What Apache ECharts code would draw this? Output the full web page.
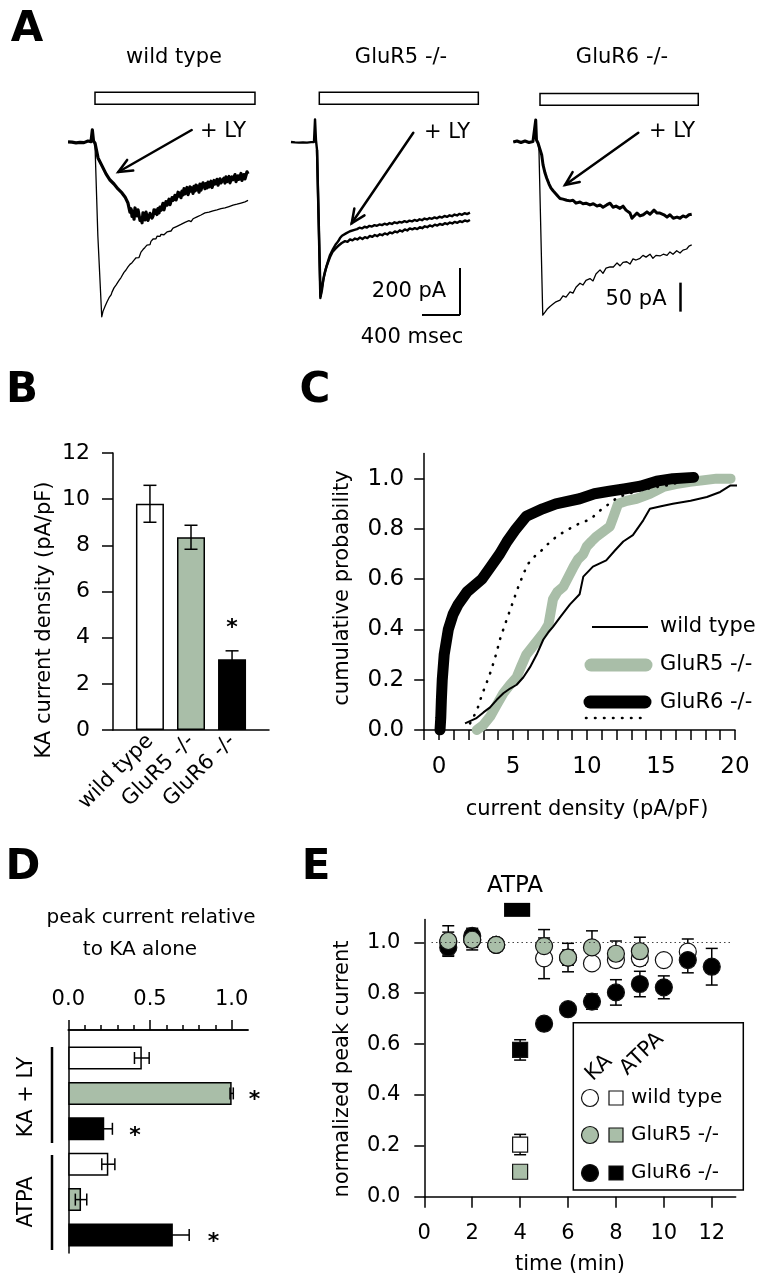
<!DOCTYPE html>
<html><head><meta charset="utf-8">
<script src="https://cdn.jsdelivr.net/npm/echarts@6/dist/echarts.min.js"></script>
<style>html,body{margin:0;padding:0;background:#fff}#c{width:767px;height:1280px}</style>
</head><body><div id="c"></div><script>
const FONT = 'DejaVu Sans';
const GREEN = '#a9bea8';

// ---------- Panel A : traces (time ms, current pA) ----------
const aTitles = ['wild type', 'GluR5 -/-', 'GluR6 -/-'];
const stimWT = [0, 1684], stimR5 = [0, 1674], stimR6 = [0, 1666];
const wtControl = [[-284,-1],[-263,3],[-242,-2],[-221,4],[-200,-5],[-179,2],[-158,-3],[-137,4],[-116,-4],[-95,2],[-74,3],[-53,-2],[-42,0],[-28,50],[-16,3],[0,-14],[30,-400],[71,-745],[84,-722],[95,-716],[106,-700],[116,-695],[127,-681],[137,-686],[148,-664],[158,-661],[169,-652],[179,-640],[189,-644],[200,-622],[211,-618],[221,-610],[232,-603],[242,-608],[253,-590],[263,-586],[274,-578],[284,-572],[295,-575],[305,-556],[316,-559],[326,-546],[337,-548],[347,-533],[358,-538],[368,-522],[379,-529],[390,-515],[400,-520],[411,-504],[421,-510],[432,-494],[442,-499],[453,-487],[463,-493],[474,-481],[484,-470],[495,-474],[505,-459],[516,-463],[526,-450],[537,-455],[547,-440],[558,-446],[568,-432],[579,-438],[589,-424],[600,-428],[611,-414],[621,-420],[632,-408],[642,-413],[653,-402],[663,-408],[674,-398],[684,-403],[695,-394],[705,-399],[716,-390],[726,-396],[737,-388],[758,-384],[779,-376],[800,-380],[821,-368],[842,-372],[863,-360],[884,-364],[905,-352],[926,-356],[947,-343],[968,-348],[989,-336],[1011,-340],[1032,-328],[1053,-332],[1074,-320],[1095,-324],[1116,-312],[1137,-317],[1158,-303],[1179,-309],[1200,-300],[1221,-306],[1242,-294],[1263,-299],[1284,-290],[1305,-295],[1326,-285],[1347,-292],[1368,-282],[1389,-287],[1411,-276],[1432,-281],[1453,-270],[1474,-276],[1495,-266],[1516,-271],[1537,-261],[1558,-266],[1579,-256],[1600,-260],[1611,-250]];
const wtLY = [[-284,-1],[-263,3],[-242,-2],[-221,4],[-200,-5],[-179,2],[-158,-3],[-137,4],[-116,-4],[-95,2],[-74,3],[-53,-2],[-42,0],[-28,50],[-16,3],[0,-6],[32,-69],[74,-103],[116,-137],[158,-163],[200,-180],[242,-201],[284,-218],[316,-235],[347,-261],[368,-300],[379,-285],[390,-318],[400,-296],[411,-330],[421,-282],[432,-300],[442,-316],[453,-290],[463,-295],[474,-335],[484,-325],[495,-345],[505,-303],[516,-320],[526,-333],[537,-300],[547,-308],[558,-335],[568,-329],[579,-305],[589,-299],[600,-325],[611,-316],[621,-290],[632,-305],[642,-291],[653,-310],[663,-285],[674,-303],[684,-278],[695,-292],[705,-278],[716,-262],[726,-290],[737,-286],[747,-255],[758,-270],[768,-257],[779,-245],[790,-268],[800,-265],[811,-238],[821,-250],[832,-240],[842,-228],[853,-248],[863,-235],[874,-215],[884,-232],[895,-218],[905,-238],[916,-210],[926,-227],[937,-200],[947,-222],[958,-206],[968,-195],[979,-225],[989,-214],[1000,-192],[1011,-210],[1021,-197],[1032,-220],[1042,-190],[1053,-210],[1063,-185],[1074,-205],[1084,-189],[1095,-215],[1105,-180],[1116,-206],[1126,-190],[1137,-175],[1147,-184],[1158,-200],[1168,-178],[1179,-197],[1190,-172],[1200,-192],[1211,-180],[1221,-168],[1232,-195],[1242,-189],[1253,-165],[1263,-180],[1274,-172],[1284,-160],[1295,-185],[1305,-180],[1316,-158],[1326,-175],[1337,-167],[1347,-182],[1358,-155],[1368,-176],[1379,-150],[1389,-170],[1400,-163],[1411,-148],[1421,-175],[1432,-172],[1442,-150],[1453,-162],[1463,-155],[1474,-140],[1484,-170],[1495,-167],[1505,-145],[1516,-160],[1526,-150],[1537,-135],[1547,-165],[1558,-163],[1568,-140],[1579,-158],[1589,-150],[1600,-128],[1611,-137]];
const r5Control = [[-298,-1],[-277,4],[-256,-3],[-235,4],[-214,-4],[-193,3],[-172,-3],[-151,4],[-129,-4],[-108,3],[-87,-2],[-66,3],[-56,-1],[-45,95],[-35,7],[-24,-35],[11,-665],[28,-631],[42,-589],[60,-554],[78,-529],[97,-508],[113,-491],[139,-469],[165,-457],[197,-444],[236,-431],[271,-423],[297,-426],[323,-416],[349,-420],[375,-412],[401,-416],[428,-408],[454,-414],[480,-406],[506,-410],[532,-401],[558,-405],[584,-397],[611,-402],[637,-394],[663,-398],[689,-390],[716,-395],[742,-386],[768,-390],[795,-382],[821,-386],[847,-377],[873,-382],[900,-373],[926,-378],[952,-369],[979,-373],[1005,-368],[1031,-372],[1058,-364],[1084,-368],[1110,-360],[1137,-364],[1163,-356],[1189,-361],[1216,-353],[1242,-357],[1268,-350],[1295,-354],[1321,-347],[1347,-351],[1374,-344],[1400,-348],[1426,-341],[1453,-345],[1479,-338],[1505,-342],[1532,-335],[1558,-339],[1586,-333]];
const r5LY = [[-24,-35],[13,-657],[28,-618],[49,-572],[71,-537],[92,-508],[113,-482],[144,-457],[176,-435],[197,-425],[218,-410],[239,-400],[260,-393],[281,-390],[302,-384],[323,-381],[344,-377],[370,-375],[397,-372],[423,-366],[449,-369],[476,-362],[502,-365],[528,-358],[554,-361],[581,-355],[607,-358],[633,-352],[660,-355],[686,-349],[712,-353],[739,-346],[765,-350],[791,-343],[818,-347],[844,-341],[870,-344],[897,-338],[923,-342],[949,-336],[976,-339],[1002,-333],[1028,-337],[1055,-330],[1081,-334],[1107,-327],[1134,-331],[1160,-325],[1186,-328],[1213,-322],[1239,-326],[1265,-319],[1292,-323],[1318,-316],[1344,-320],[1371,-313],[1397,-317],[1423,-310],[1450,-314],[1476,-307],[1502,-311],[1529,-304],[1555,-308],[1586,-302]];
const r6Control = [[-281,-0.5],[-261,1.5],[-242,1.2],[-221,-1.5],[-200,-1.4],[-179,1.8],[-158,1.2],[-137,-1.6],[-116,-1.4],[-95,1.5],[-74,0.3],[-53,-0.5],[-45,37.4],[-37,2.9],[-21,-2.2],[-11,-14],[29,-299],[53,-294],[74,-289],[105,-284],[137,-280],[168,-276],[211,-273],[242,-266],[274,-268],[316,-259],[347,-261],[379,-251],[421,-244],[453,-247],[484,-239],[526,-236],[558,-240],[589,-228],[632,-221],[663,-227],[695,-218],[737,-216],[772,-216],[811,-209],[842,-214],[874,-208],[913,-207],[947,-211],[979,-202],[1011,-204],[1053,-201],[1084,-196],[1116,-199],[1158,-194],[1189,-201],[1221,-196],[1263,-197],[1298,-194],[1337,-196],[1368,-190],[1400,-194],[1439,-188],[1474,-192],[1505,-187],[1544,-185],[1568,-180],[1597,-178]];
const r6LY = [[-281,-0.5],[-261,1.5],[-242,1.2],[-221,-1.5],[-200,-1.4],[-179,1.8],[-158,1.2],[-137,-1.6],[-116,-1.4],[-95,1.5],[-74,0.3],[-53,-0.5],[-45,37.4],[-37,2.9],[-21,-2.2],[-11,-2.2],[18,-23],[32,-40],[53,-54],[71,-63],[95,-73],[116,-80],[140,-85],[168,-90],[189,-94],[211,-98],[242,-99],[281,-101],[316,-102],[347,-101],[379,-106],[421,-104],[453,-107],[484,-106],[526,-109],[561,-107],[600,-111],[632,-109],[663,-113],[702,-109],[737,-106],[768,-113],[800,-111],[842,-115],[874,-111],[905,-118],[947,-123],[968,-132],[989,-133],[1021,-123],[1053,-128],[1087,-126],[1126,-121],[1158,-125],[1200,-118],[1232,-123],[1263,-123],[1305,-126],[1337,-130],[1368,-126],[1403,-132],[1442,-130],[1474,-132],[1505,-128],[1537,-130],[1568,-126],[1597,-125]];
const scaleR5 = {t0: 1081, t1: 1481, pA0: -737, pA1: -537};   // 400 ms, 200 pA
const scaleR6 = {t: 1474, pA0: -293, pA1: -243};               // 50 pA

// ---------- Panel B ----------
const bCats = ['wild type', 'GluR5 -/-', 'GluR6 -/-'];
const bValues = [9.8, 8.35, 3.06];
const bErr = [0.8, 0.52, 0.37];

// ---------- Panel C (cumulative distributions) ----------
const cWT = [[1.76,0.026],[2.5,0.046],[3.0,0.07],[3.45,0.09],[3.9,0.12],[4.35,0.146],[4.8,0.165],[5.25,0.18],[5.7,0.21],[6.15,0.25],[6.6,0.30],[7.05,0.36],[7.4,0.39],[7.7,0.41],[8.2,0.45],[8.85,0.50],[9.5,0.54],[9.75,0.61],[10.4,0.65],[11.3,0.675],[11.9,0.715],[12.45,0.75],[13.1,0.775],[13.8,0.834],[14.25,0.88],[15.0,0.89],[15.8,0.9],[17.0,0.912],[18.1,0.927],[19.0,0.947],[19.7,0.973],[20.2,0.973]];
const cR5 = [[2.55,0],[3.0,0.02],[3.45,0.053],[3.9,0.10],[4.35,0.146],[4.8,0.18],[5.25,0.21],[5.6,0.26],[5.9,0.30],[6.3,0.33],[6.7,0.36],[7.1,0.39],[7.4,0.42],[7.55,0.47],[7.7,0.52],[8.0,0.55],[8.4,0.57],[8.75,0.61],[9.1,0.65],[9.4,0.68],[9.75,0.70],[9.98,0.73],[10.3,0.75],[10.65,0.77],[11.1,0.79],[11.55,0.81],[11.8,0.85],[12.1,0.90],[12.7,0.912],[13.35,0.92],[14.25,0.94],[15.15,0.967],[16.0,0.978],[16.95,0.987],[17.8,0.993],[18.75,1.0],[19.7,1.0]];
const cR6 = [[0.07,0],[0.12,0.05],[0.16,0.12],[0.22,0.2],[0.35,0.3],[0.63,0.4],[0.95,0.46],[1.3,0.5],[1.9,0.55],[2.9,0.6],[3.5,0.65],[4.1,0.7],[4.6,0.75],[5.2,0.8],[5.9,0.85],[7.0,0.88],[7.9,0.9],[9.5,0.92],[10.5,0.94],[11.5,0.95],[12.6,0.96],[13.6,0.97],[14.7,0.99],[15.8,1.0],[17.2,1.005]];
const cDot = [[2.1,0.026],[2.4,0.06],[2.65,0.093],[2.9,0.14],[3.2,0.185],[3.45,0.225],[3.67,0.265],[3.9,0.31],[4.1,0.357],[4.4,0.41],[4.7,0.46],[5.0,0.51],[5.36,0.57],[5.7,0.62],[6.0,0.66],[6.45,0.69],[6.94,0.715],[7.45,0.745],[7.95,0.77],[8.5,0.79],[9.1,0.81],[9.6,0.825],[10.2,0.837],[10.9,0.874],[11.5,0.9],[12.1,0.927],[12.8,0.94],[13.6,0.954],[14.5,0.965],[15.4,0.973],[16.2,0.985],[17.0,0.993]];
const cXLabels = [0, 5, 10, 15, 20];
const cYTicks = [0, 0.2, 0.4, 0.6, 0.8, 1.0];
const cLegend = ['wild type', 'GluR5 -/-', 'GluR6 -/-'];

// ---------- Panel D ----------
const dGroups = ['KA + LY', 'ATPA'];
const dCats = ['KA+LY wild type', 'KA+LY GluR5', 'KA+LY GluR6', 'ATPA wild type', 'ATPA GluR5', 'ATPA GluR6'];
const dValues = [0.45, 1.0, 0.22, 0.245, 0.078, 0.64];
const dErr = [0.045, 0.01, 0.05, 0.04, 0.035, 0.10];
const dStar = [false, true, true, false, false, true];
const dMajor = [0, 0.5, 1.0];
const dMinor = [0, 0.1, 0.2, 0.3, 0.4, 0.5, 0.6, 0.7, 0.8, 0.9, 1.0];

// ---------- Panel E ----------
const eWTt = [1, 2, 3, 5, 6, 7, 8, 9, 10, 11];
const eWTv = [1.0, 1.01, 0.99, 0.937, 0.94, 0.917, 0.93, 0.937, 0.93, 0.963];
const eWTe = [0.04, 0.03, 0.02, 0.08, 0.03, 0.015, 0.025, 0.026, 0.01, 0.05];
const eR5t = [1, 2, 3, 5, 6, 7, 8, 9];
const eR5v = [1.005, 1.01, 0.99, 0.985, 0.94, 0.98, 0.955, 0.965];
const eR5e = [0.06, 0.04, 0.01, 0.065, 0.056, 0.065, 0.05, 0.055];
const eR6t = [1, 2, 3, 5, 6, 7, 8, 9, 10, 11, 12];
const eR6v = [0.98, 1.025, 0.99, 0.68, 0.737, 0.767, 0.803, 0.836, 0.823, 0.93, 0.904];
const eR6e = [0.03, 0.03, 0.01, 0.015, 0.015, 0.03, 0.05, 0.05, 0.045, 0.05, 0.072];
const eSqT = 4;
const eSqV = [0.205, 0.098, 0.577];   // wild type, GluR5, GluR6
const eSqE = [0.04, 0.01, 0.04];
const eATPA = [3.33, 4.42];
const eXTicks = [0, 2, 4, 6, 8, 10, 12];
const eYTicks = [0, 0.2, 0.4, 0.6, 0.8, 1.0];

// ---------- helpers ----------
const BLK = '#000';
const axLine = {show: true, onZero: false, lineStyle: {color: BLK, width: 1.5}};
const tickSt = {color: BLK, width: 1.5};
const lblSt = (size, extra) => Object.assign({color: BLK, fontFamily: FONT, fontSize: size}, extra || {});
const hiddenAx = (g, min, max) => ({gridIndex: g, type: 'value', min, max, show: false});
const zip = (t, v, e) => t.map((x, i) => [x, v[i], e[i]]);

function vErr(xi, yi, data, cap, z) {
  return {type: 'custom', xAxisIndex: xi, yAxisIndex: yi, z: z || 2, silent: true, clip: false,
    data: data,
    renderItem: (p, api) => {
      const x = api.value(0), y = api.value(1), e = api.value(2);
      const lo = api.coord([x, y - e]), hi = api.coord([x, y + e]);
      const st = {stroke: BLK, lineWidth: 1.5};
      return {type: 'group', children: [
        {type: 'line', shape: {x1: lo[0], y1: lo[1], x2: hi[0], y2: hi[1]}, style: st},
        {type: 'line', shape: {x1: lo[0] - cap, y1: lo[1], x2: lo[0] + cap, y2: lo[1]}, style: st},
        {type: 'line', shape: {x1: hi[0] - cap, y1: hi[1], x2: hi[0] + cap, y2: hi[1]}, style: st}
      ]};
    }};
}
function hErr(xi, yi, data, cap) {
  return {type: 'custom', xAxisIndex: xi, yAxisIndex: yi, z: 3, silent: true, clip: false,
    data: data,
    renderItem: (p, api) => {
      const v = api.value(0), r = api.value(1), e = api.value(2);
      const lo = api.coord([v - e, r]), hi = api.coord([v + e, r]);
      const st = {stroke: BLK, lineWidth: 1.5};
      return {type: 'group', children: [
        {type: 'line', shape: {x1: lo[0], y1: lo[1], x2: hi[0], y2: hi[1]}, style: st},
        {type: 'line', shape: {x1: lo[0], y1: lo[1] - cap, x2: lo[0], y2: lo[1] + cap}, style: st},
        {type: 'line', shape: {x1: hi[0], y1: hi[1] - cap, x2: hi[0], y2: hi[1] + cap}, style: st}
      ]};
    }};
}
function trace(gi, data, w, extra) {
  return Object.assign({type: 'line', xAxisIndex: gi, yAxisIndex: gi, data: data, symbol: 'none',
    showSymbol: false, silent: true, lineStyle: {color: BLK, width: w, join: 'round'}, z: 3}, extra || {});
}
function stimArea(stim, lo, hi) {
  return {silent: true, itemStyle: {color: '#fff', borderColor: BLK, borderWidth: 1.5},
    data: [[{coord: [stim[0], lo]}, {coord: [stim[1], hi]}]]};
}
function txt(x, y, s, size, o) {
  o = o || {};
  return {type: 'text', x: x, y: y, rotation: o.rot || 0, z: 100,
    style: {text: s, fontFamily: FONT, fontSize: size, fontWeight: o.bold ? 'bold' : 'normal',
      fill: BLK, align: o.align || 'center', verticalAlign: 'middle'}};
}
function arrow(x0, y0, x1, y1) {
  const a = Math.atan2(y0 - y1, x0 - x1), L = 15, h = 0.42;
  const st = {stroke: BLK, lineWidth: 2.5, fill: null, lineCap: 'round', lineJoin: 'miter'};
  return [
    {type: 'line', z: 100, shape: {x1: x0, y1: y0, x2: x1, y2: y1}, style: st},
    {type: 'polyline', z: 100, shape: {points: [[x1 + L * Math.cos(a + h), y1 + L * Math.sin(a + h)], [x1, y1], [x1 + L * Math.cos(a - h), y1 + L * Math.sin(a - h)]]}, style: st}
  ];
}
function gLine(x1, y1, x2, y2, w, extra) {
  return {type: 'line', z: 100, shape: {x1, y1, x2, y2}, style: Object.assign({stroke: BLK, lineWidth: w}, extra || {})};
}

// axis indices
const XB = 3, XC = 4, XDMIN = 5, XDMAJ = 6, XE = 7, XD = 8;
const YB = 3, YC = 4, YDLINE = 5, YE = 6, YDMAJ = 7, YD = 8;

// ---------- series ----------
const series = [];
// Panel A
series.push(trace(0, wtControl, 1.3, {markArea: stimArea(stimWT, 159, 210)}));
series.push(trace(0, wtLY, 3.2));
series.push(trace(1, r5Control, 2.4, {markArea: stimArea(stimR5, 159, 210),
  markLine: {silent: true, symbol: ['none', 'none'], label: {show: false}, lineStyle: {color: BLK, width: 2, type: 'solid'},
    data: [[{coord: [scaleR5.t0, scaleR5.pA0]}, {coord: [scaleR5.t1, scaleR5.pA0]}],
           [{coord: [scaleR5.t1, scaleR5.pA0]}, {coord: [scaleR5.t1, scaleR5.pA1]}]]}}));
series.push(trace(1, r5LY, 2.4));
series.push(trace(2, r6Control, 1.3, {markArea: stimArea(stimR6, 63, 83),
  markLine: {silent: true, symbol: ['none', 'none'], label: {show: false}, lineStyle: {color: BLK, width: 2.5, type: 'solid'},
    data: [[{coord: [scaleR6.t, scaleR6.pA0]}, {coord: [scaleR6.t, scaleR6.pA1]}]]}}));
series.push(trace(2, r6LY, 3));

// Panel B
const bColors = ['#fff', GREEN, BLK];
series.push({type: 'bar', xAxisIndex: XB, yAxisIndex: YB, barWidth: 28, silent: true, z: 2,
  data: bValues.map((v, i) => ({value: [i + 1, v],
    itemStyle: {color: bColors[i], borderColor: BLK, borderWidth: 1.5},
    label: i === 2 ? {show: true, position: 'top', distance: 20, formatter: '*', fontSize: 22, fontWeight: 'bold', color: BLK, fontFamily: FONT} : {show: false}}))});
series.push(vErr(XB, YB, bValues.map((v, i) => [i + 1, v, bErr[i]]), 6.5, 3));

// Panel C
series.push({type: 'line', xAxisIndex: XC, yAxisIndex: YC, data: cR5, symbol: 'none', silent: true, z: 2,
  lineStyle: {color: GREEN, width: 10, cap: 'round', join: 'round'}});
series.push({type: 'line', xAxisIndex: XC, yAxisIndex: YC, data: cWT, symbol: 'none', silent: true, z: 3, clip: false,
  lineStyle: {color: BLK, width: 2}});
series.push({type: 'line', xAxisIndex: XC, yAxisIndex: YC, data: cR6, symbol: 'none', silent: true, z: 3,
  lineStyle: {color: BLK, width: 11, cap: 'round', join: 'round'}});
series.push({type: 'line', xAxisIndex: XC, yAxisIndex: YC, data: cDot, symbol: 'none', silent: true, z: 4,
  lineStyle: {color: BLK, width: 2.6, type: [0.5, 8.5], cap: 'round'}});

// Panel D (horizontal bars on a category y axis)
const dColors = ['#fff', GREEN, BLK, '#fff', GREEN, BLK];
const dDist = [0, 17, 25, 0, 0, 35];
series.push({type: 'bar', xAxisIndex: XD, yAxisIndex: YD, barWidth: 23, silent: true, z: 2,
  data: dValues.map((v, i) => ({value: v, itemStyle: {color: dColors[i], borderColor: BLK, borderWidth: 1.5},
    label: dStar[i] ? {show: true, position: 'right', distance: dDist[i], offset: [0, 7], formatter: '*', fontSize: 22, fontWeight: 'bold', color: BLK, fontFamily: FONT} : {show: false}}))});
series.push(hErr(XD, YD, dValues.map((v, i) => [v, i, dErr[i]]), 6));

// Panel E
series.push(Object.assign(vErr(XE, YE, zip(eWTt, eWTv, eWTe), 6, 2), {
  markLine: {silent: true, symbol: ['none', 'none'], label: {show: false},
    lineStyle: {color: '#444', width: 1, type: [1.5, 3]},
    data: [[{coord: [0.3, 1]}, {coord: [12.85, 1]}]]}}));
series.push(vErr(XE, YE, zip(eR6t, eR6v, eR6e), 6, 2));
series.push(vErr(XE, YE, zip(eR5t, eR5v, eR5e), 6, 2));
series.push(vErr(XE, YE, eSqV.map((v, i) => [eSqT, v, eSqE[i]]), 6, 2));
const circ = (t, v, fill) => ({type: 'scatter', xAxisIndex: XE, yAxisIndex: YE, symbol: 'circle', symbolSize: 17, silent: true, z: 3,
  data: t.map((x, i) => [x, v[i]]), itemStyle: {color: fill, borderColor: '#111', borderWidth: 1.2, opacity: 1}});
series.push(circ(eWTt, eWTv, '#fff'));
series.push(circ(eR6t, eR6v, BLK));
series.push(circ(eR5t, eR5v, GREEN));
series.push({type: 'scatter', xAxisIndex: XE, yAxisIndex: YE, symbol: 'rect', symbolSize: 15, silent: true, z: 3,
  itemStyle: {opacity: 1},
  data: eSqV.map((v, i) => ({value: [eSqT, v], itemStyle: {color: ['#fff', GREEN, BLK][i], borderColor: '#111', borderWidth: 1.2, opacity: 1}}))});
series.push({type: 'custom', xAxisIndex: XE, yAxisIndex: YE, clip: false, silent: true, z: 3,
  data: [eATPA],
  renderItem: (p, api) => {
    const a = api.coord([api.value(0), 1.155]), b = api.coord([api.value(1), 1.10]);
    return {type: 'rect', shape: {x: a[0], y: a[1], width: b[0] - a[0], height: b[1] - a[1]}, style: {fill: BLK}};
  }});

// ---------- graphic annotations ----------
const G = [];
G.push(txt(27, 30, 'A', 42, {bold: true}));
G.push(txt(22, 391, 'B', 42, {bold: true}));
G.push(txt(315, 391, 'C', 42, {bold: true}));
G.push(txt(23, 868, 'D', 42, {bold: true}));
G.push(txt(316, 868, 'E', 42, {bold: true}));
G.push(txt(174, 58, aTitles[0], 21));
G.push(txt(401, 58, aTitles[1], 21));
G.push(txt(622, 58, aTitles[2], 21));
G.push(txt(223, 132, '+ LY', 21));
G.push(txt(447, 133, '+ LY', 21));
G.push(txt(672, 132, '+ LY', 21));
G.push(...arrow(191.7, 130, 118.3, 172));
G.push(...arrow(413.3, 132.7, 351.7, 223.3));
G.push(...arrow(638.3, 132.7, 565, 185));
G.push(txt(409, 292, '200 pA', 21));
G.push(txt(412, 338, '400 msec', 21));
G.push(txt(636, 300, '50 pA', 21));
// B
G.push(txt(45, 620, 'KA current density (pA/pF)', 21, {rot: Math.PI / 2}));
// C
G.push(txt(343, 588, 'cumulative probability', 21, {rot: Math.PI / 2}));
G.push(txt(587, 810, 'current density (pA/pF)', 21));
G.push(gLine(592, 627, 648, 627, 2));
G.push(gLine(591, 665, 646, 665, 13, {stroke: GREEN, lineCap: 'round'}));
G.push(gLine(590, 702, 645, 702, 13, {lineCap: 'round'}));
G.push(gLine(586, 718, 647, 718, 2.6, {lineDash: [0.5, 8.5], lineCap: 'round'}));
G.push(txt(660, 627, cLegend[0], 21, {align: 'left'}));
G.push(txt(660, 665, cLegend[1], 21, {align: 'left'}));
G.push(txt(660, 703, cLegend[2], 21, {align: 'left'}));
// D
G.push(txt(151, 918, 'peak current relative', 20));
G.push(txt(140, 950, 'to KA alone', 20));
G.push(txt(27, 1097, dGroups[0], 21, {rot: Math.PI / 2}));
G.push(txt(27, 1202, dGroups[1], 21, {rot: Math.PI / 2}));
G.push(gLine(52, 1047, 52, 1143, 2.5));
G.push(gLine(52, 1155, 52, 1250, 2.5));
// E
G.push(txt(343, 1069, 'normalized peak current', 21, {rot: Math.PI / 2}));
G.push(txt(570, 1265, 'time (min)', 21));
G.push(txt(515, 886, 'ATPA', 23));
G.push({type: 'rect', z: 99, shape: {x: 573.3, y: 1022.7, width: 170, height: 167.3}, style: {fill: '#fff', stroke: BLK, lineWidth: 1.5}});
G.push(txt(599, 1068, 'KA', 21, {rot: 44 * Math.PI / 180}));
G.push(txt(642, 1054, 'ATPA', 21, {rot: 44 * Math.PI / 180}));
const eLegRows = [['wild type', '#fff', 1098], ['GluR5 -/-', GREEN, 1135], ['GluR6 -/-', BLK, 1173]];
eLegRows.forEach(r => {
  G.push({type: 'circle', z: 100, shape: {cx: 590, cy: r[2], r: 8.5}, style: {fill: r[1], stroke: '#111', lineWidth: 1.2}});
  G.push({type: 'rect', z: 100, shape: {x: 609, y: r[2] - 7, width: 14, height: 14}, style: {fill: r[1], stroke: '#111', lineWidth: 1.2}});
  G.push(txt(631, r[2], r[0], 20, {align: 'left'}));
});

const dAxesRect = {left: 68.3, top: 1030, width: 179.7, height: 223};
const option = {
  animation: false,
  backgroundColor: '#fff',
  textStyle: {fontFamily: FONT},
  grid: [
    {left: 66.5, top: 71.2, width: 190, height: 258.5},
    {left: 290.8, top: 71.2, width: 190, height: 258.5},
    {left: 511.5, top: 72.1, width: 190, height: 255.2},
    {left: 113, top: 453, width: 156, height: 277},
    {left: 424.2, top: 453.5, width: 310.8, height: 276.5},
    Object.assign({}, dAxesRect),                       // 5: D minor ticks + y line
    {left: 424.3, top: 919.4, width: 311.4, height: 277.3}, // 6: E
    Object.assign({}, dAxesRect),                       // 7: D major ticks + labels
    {left: 68.3, top: 1040.3, width: 179.7, height: 212.4}  // 8: D bars
  ],
  xAxis: [
    hiddenAx(0, -300, 1700), hiddenAx(1, -300, 1700), hiddenAx(2, -300, 1700),
    {gridIndex: 3, type: 'value', min: 0.1, max: 3.9, axisLine: axLine, axisTick: {show: false}, splitLine: {show: false},
      axisLabel: lblSt(21, {customValues: [1, 2, 3], formatter: v => bCats[Math.round(v) - 1], rotate: 45, margin: 8})},
    {gridIndex: 4, type: 'value', min: -1, max: 20, interval: 1, axisLine: axLine, splitLine: {show: false},
      axisTick: {length: 10, lineStyle: tickSt},
      axisLabel: lblSt(23, {customValues: cXLabels, formatter: v => String(v), margin: 26})},
    {gridIndex: 5, type: 'value', position: 'top', min: 0, max: 1.1, axisLine: axLine, splitLine: {show: false},
      axisTick: {show: true, customValues: dMinor, length: 5, lineStyle: tickSt},
      axisLabel: lblSt(21, {customValues: dMinor, formatter: () => ''})},
    {gridIndex: 7, type: 'value', position: 'top', min: 0, max: 1.1, axisLine: axLine, splitLine: {show: false},
      axisTick: {show: true, customValues: dMajor, length: 10, lineStyle: tickSt},
      axisLabel: lblSt(21, {customValues: dMajor, formatter: v => v.toFixed(1), margin: 20})},
    {gridIndex: 6, type: 'value', min: 0, max: 13, axisLine: axLine, splitLine: {show: false},
      axisTick: {customValues: eXTicks, length: 11, lineStyle: tickSt},
      axisLabel: lblSt(21, {customValues: eXTicks, formatter: v => String(v), margin: 26})},
    hiddenAx(8, 0, 1.1)
  ],
  yAxis: [
    hiddenAx(0, -800, 300), hiddenAx(1, -800, 300), hiddenAx(2, -320, 120),
    {gridIndex: 3, type: 'value', min: 0, max: 12, interval: 2, axisLine: axLine, splitLine: {show: false},
      axisTick: {length: 11, lineStyle: tickSt}, axisLabel: lblSt(22, {margin: 23})},
    {gridIndex: 4, type: 'value', min: 0, max: 1.1, axisLine: axLine, splitLine: {show: false},
      axisTick: {customValues: cYTicks, length: 10, lineStyle: tickSt},
      axisLabel: lblSt(23, {customValues: cYTicks, formatter: v => v.toFixed(1), margin: 20})},
    {gridIndex: 5, type: 'value', min: 0, max: 1, axisLine: axLine, splitLine: {show: false},
      axisTick: {show: false}, axisLabel: {show: false}},
    {gridIndex: 6, type: 'value', min: 0, max: 1.09, axisLine: axLine, splitLine: {show: false},
      axisTick: {customValues: eYTicks, length: 10, lineStyle: tickSt},
      axisLabel: lblSt(21, {customValues: eYTicks, formatter: v => v.toFixed(1), margin: 24})},
    hiddenAx(7, 0, 1),
    {gridIndex: 8, type: 'category', inverse: true, data: dCats, show: false}
  ],
  series: series,
  graphic: G
};
const chart = echarts.init(document.getElementById('c'), null, {renderer: 'canvas', width: 767, height: 1280});
chart.setOption(option);
</script></body></html>
